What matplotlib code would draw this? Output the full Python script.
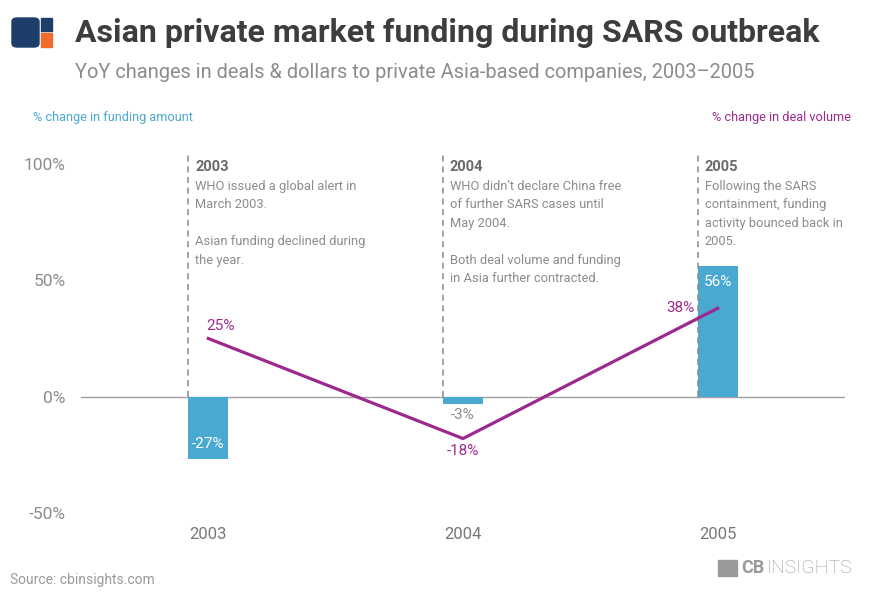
import matplotlib.pyplot as plt
from matplotlib.patches import FancyBboxPatch, Rectangle

plt.rcParams['font.family'] = ['Roboto', 'DejaVu Sans']

years = ["2003", "2004", "2005"]
funding_change = [-27, -3, 56]
deal_change = [25, -18, 38]
y_ticks = [-50, 0, 50, 100]
y_tick_labels = ["-50%", "0%", "50%", "100%"]
note_titles = ["2003", "2004", "2005"]
note_texts = [
    "WHO issued a global alert in\nMarch 2003.\n\nAsian funding declined during\nthe year.",
    "WHO didn\u2019t declare China free\nof further SARS cases until\nMay 2004.\n\nBoth deal volume and funding\nin Asia further contracted.",
    "Following the SARS\ncontainment, funding\nactivity bounced back in\n2005.",
]

BLUE = "#4aa9d0"
PURPLE = "#9c2a8e"
GREY = "#8c8c8c"
DARK = "#3d3d3d"

W, H = 880, 599


def fx(px):
    return px / W


def fy(py):
    return 1 - py / H


fig = plt.figure(figsize=(8.8, 5.99), dpi=100)
ax = fig.add_axes([fx(81), fy(513), fx(845) - fx(81), fy(164) - fy(513)])

x = list(range(len(years)))
bar_w = 0.157

ax.bar(x, funding_change, width=bar_w, color=BLUE, zorder=2)
ax.plot(x, deal_change, color=PURPLE, lw=2.3, zorder=4)
ax.axhline(0, color="#a0a0a0", lw=1, zorder=1)

ax.set_xlim(-0.5, 2.5)
ax.set_ylim(-50, 100)
ax.set_yticks(y_ticks)
ax.set_yticklabels(y_tick_labels, fontsize=12.5, color=GREY)
ax.set_xticks(x)
ax.set_xticklabels(years, fontsize=12, color="#777777")
ax.tick_params(axis="y", length=0, pad=11)
ax.tick_params(axis="x", length=0, pad=10)
for s in ax.spines.values():
    s.set_visible(False)

# dashed note lines + notes
for i in x:
    left = i - bar_w / 2
    ax.plot([left, left], [0, 104], color="#8a8a8a", lw=1.1,
            ls=(0, (4, 3)), zorder=3, clip_on=False)
    ax.annotate(note_titles[i], (left, 104), xytext=(5, -4), textcoords="offset points",
                fontsize=10.5, fontweight="bold", color="#6a6a6a", va="top", ha="left",
                annotation_clip=False)
    ax.annotate(note_texts[i], (left, 104), xytext=(5, -18), textcoords="offset points",
                fontsize=9.3, color=GREY, va="top", ha="left", linespacing=1.55,
                annotation_clip=False)

# bar value labels
ax.annotate(f"{funding_change[0]}%", (0, funding_change[0]), xytext=(0, 11),
            textcoords="offset points", ha="center", va="center", color="white", fontsize=11)
ax.annotate(f"{funding_change[1]}%", (1, funding_change[1]), xytext=(0, -8),
            textcoords="offset points", ha="center", va="center", color=GREY, fontsize=11)
ax.annotate(f"{funding_change[2]}%", (2, funding_change[2]), xytext=(0, -11),
            textcoords="offset points", ha="center", va="center", color="white", fontsize=11)

# line value labels
ax.annotate(f"{deal_change[0]}%", (0, deal_change[0]), xytext=(9, 9),
            textcoords="offset points", ha="center", va="center", color=PURPLE, fontsize=11)
ax.annotate(f"{deal_change[1]}%", (1, deal_change[1]), xytext=(0, -9),
            textcoords="offset points", ha="center", va="center", color=PURPLE, fontsize=11)
ax.annotate(f"{deal_change[2]}%", (2, deal_change[2]), xytext=(-27, 0),
            textcoords="offset points", ha="center", va="center", color=PURPLE, fontsize=11)

# header
fig.text(fx(75), fy(33), "Asian private market funding during SARS outbreak",
         fontsize=23, fontweight="bold", color=DARK, va="center")
fig.text(fx(75), fy(73), "YoY changes in deals & dollars to private Asia-based companies, 2003\u20132005",
         fontsize=14.4, color=GREY, va="center")
fig.text(fx(33), fy(118), "% change in funding amount", fontsize=9.2, color=BLUE, va="center")
fig.text(fx(851), fy(118), "% change in deal volume", fontsize=9.2, color=PURPLE,
         va="center", ha="right")

# logo top-left
fig.patches.append(FancyBboxPatch((fx(12), fy(47)), fx(27), fy(18) - fy(47),
                                  boxstyle="round,pad=0,rounding_size=0.006",
                                  transform=fig.transFigure, color="#1d3d6b"))
fig.patches.append(Rectangle((fx(41), fy(31)), fx(11), fy(18) - fy(31),
                             transform=fig.transFigure, color="#1d3d6b"))
fig.patches.append(Rectangle((fx(41), fy(47)), fx(11), fy(33) - fy(47),
                             transform=fig.transFigure, color="#f26a2e"))

# footer
fig.text(fx(10), fy(580), "Source: cbinsights.com", fontsize=10, color="#9a9a9a", va="center")
fig.patches.append(Rectangle((fx(718), fy(576)), fx(19), fy(560) - fy(576),
                             transform=fig.transFigure, color="#9a9a9a"))
fig.text(fx(765), fy(568), "CB", fontsize=13, fontweight="bold", color="#9a9a9a",
         va="center", ha="right")
fig.text(fx(852), fy(568), "INSIGHTS", fontsize=14, fontweight="light", color="#9a9a9a",
         va="center", ha="right")

fig.savefig("out.png", dpi=100, facecolor="white")
